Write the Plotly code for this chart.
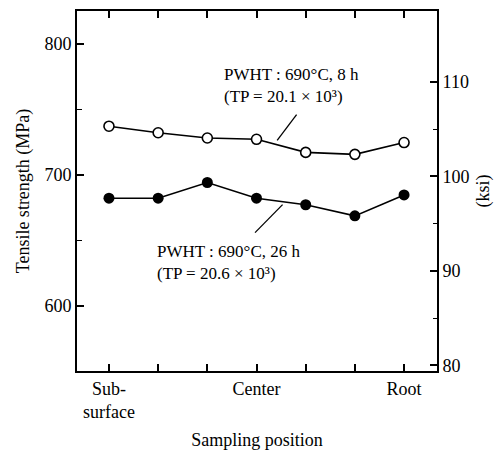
import plotly.graph_objects as go

positions = [0, 1, 2, 3, 4, 5, 6]
tick_labels = ["Sub-<br>surface", "", "", "Center", "", "", "Root"]
ts_8h = [737, 732, 728, 727, 717, 715.5, 724.5]     # MPa, PWHT 690C 8 h (open)
ts_26h = [682, 682, 694, 682, 677, 668.5, 684.5]    # MPa, PWHT 690C 26 h (filled)
ksi_ticks = [80, 90, 100, 110]

FONT = "Liberation Serif"
fs = 18

fig = go.Figure()
fig.add_trace(go.Scatter(
    x=positions, y=ts_8h, mode="lines+markers",
    line=dict(color="black", width=1.6),
    marker=dict(symbol="circle", size=10, color="white",
                line=dict(color="black", width=1.6)),
    showlegend=False, hoverinfo="skip"))
fig.add_trace(go.Scatter(
    x=positions, y=ts_26h, mode="lines+markers",
    line=dict(color="black", width=1.6),
    marker=dict(symbol="circle", size=11, color="black"),
    showlegend=False, hoverinfo="skip"))
# invisible companion trace in ksi to activate the right axis
fig.add_trace(go.Scatter(
    x=positions, y=[v / 6.895 for v in ts_8h], mode="lines",
    line=dict(width=0, color="rgba(0,0,0,0)"), yaxis="y2",
    showlegend=False, hoverinfo="skip"))

# the page body has an 8 px default margin; size the figure to fill the rest
fig.update_layout(
    width=494, height=451,
    margin=dict(l=69, r=65, t=3, b=88, autoexpand=False),
    paper_bgcolor="white", plot_bgcolor="white",
    font=dict(family=FONT, size=fs, color="black"),
    xaxis=dict(
        range=[-0.65, 6.67], tickmode="array", tickvals=positions,
        ticktext=tick_labels, ticks="inside", ticklen=7, tickwidth=1.5,
        tickcolor="black", showline=True, linecolor="black", linewidth=2,
        mirror="ticks", showgrid=False, zeroline=False, automargin=False,
        title=dict(text="Sampling position", standoff=12,
                   font=dict(family=FONT, size=fs)),
    ),
    yaxis=dict(
        range=[550, 825], tickmode="array", tickvals=[600, 700, 800],
        ticks="inside", ticklen=7, tickwidth=1.5, tickcolor="black",
        minor=dict(tickvals=[650, 750], ticks="inside", ticklen=5,
                   tickwidth=1, tickcolor="black"),
        showline=True, linecolor="black", linewidth=2, automargin=False,
        showgrid=False, zeroline=False,
        title=dict(text="Tensile strength (MPa)", standoff=10,
                   font=dict(family=FONT, size=fs)),
    ),
    yaxis2=dict(
        overlaying="y", side="right", range=[79.4, 117.5],
        tickmode="array", tickvals=ksi_ticks, automargin=False,
        ticks="inside", ticklen=7, tickwidth=1.5, tickcolor="black",
        minor=dict(tickvals=[85, 95, 105], ticks="inside", ticklen=4,
                   tickwidth=1, tickcolor="black"),
        showline=True, linecolor="black", linewidth=2,
        showgrid=False, zeroline=False,
        title=dict(text="(ksi)", standoff=8,
                   font=dict(family=FONT, size=fs)),
    ),
    annotations=[
        dict(x=2.30, y=768, xref="x", yref="y", xanchor="left",
             yanchor="middle", align="left", showarrow=False,
             text="PWHT : 690°C, 8 h<br>(TP = 20.1 × 10³)",
             font=dict(family=FONT, size=fs - 1)),
        dict(x=0.93, y=633, xref="x", yref="y", xanchor="left",
             yanchor="middle", align="left", showarrow=False,
             text="PWHT : 690°C, 26 h<br>(TP = 20.6 × 10³)",
             font=dict(family=FONT, size=fs - 1)),
    ],
    shapes=[
        dict(type="line", xref="x", yref="y", x0=3.815, y0=745.8,
             x1=3.42, y1=726.2, line=dict(color="black", width=1.3)),
        dict(type="line", xref="x", yref="y", x0=2.97, y0=655.7,
             x1=3.53, y1=677.1, line=dict(color="black", width=1.3)),
    ],
)

fig.write_html("out.html")
